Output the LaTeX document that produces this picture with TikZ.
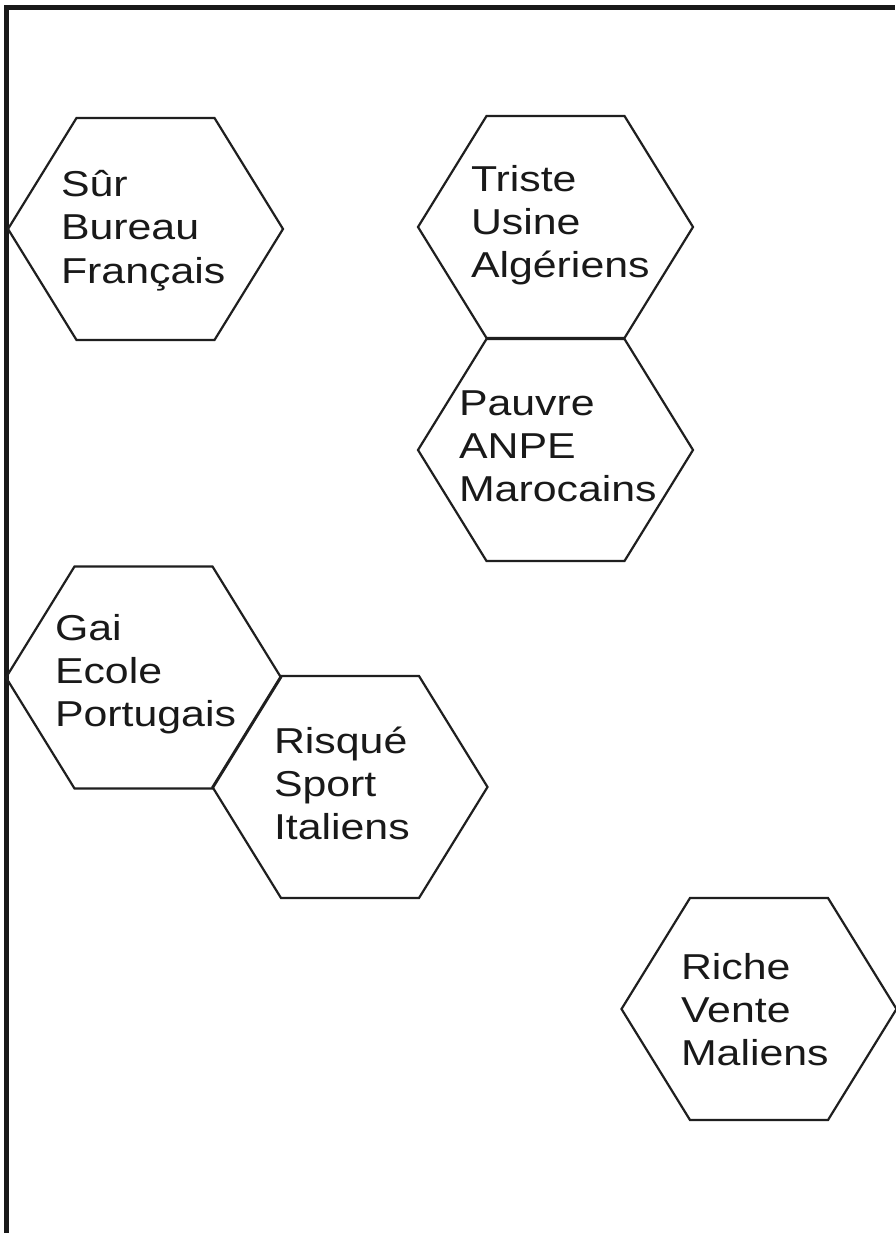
\documentclass[tikz,border=0pt]{standalone}
\usepackage{graphicx}
\usepackage{fontspec}
\setmainfont{Liberation Sans}
\newcommand\lbltext[1]{\scalebox{1.19}[1]{\begin{tabular}[t]{@{}l@{}}#1\end{tabular}}}
\newcommand\hexat[1]{\draw[hexline] (#1) ++(-137.5,0) -- ++(68.5,-111) -- ++(138,0) -- ++(68.5,111) -- ++(-68.5,111) -- ++(-138,0) -- cycle;}
\tikzset{
  hexline/.style={line width=2.2pt, draw=black!88, line join=miter},
  frameline/.style={line width=5pt, draw=black!90},
  lbl/.style={anchor=base west, inner sep=0pt, outer sep=0pt, font=\fontsize{36}{43}\selectfont, text=black!90}
}
\begin{document}
\begin{tikzpicture}[x=1pt,y=-1pt]
\useasboundingbox (0,0) rectangle (895,1233);
\fill[white] (0,0) rectangle (895,1233);
% frame
\coordinate (fb) at (6,1233);
\coordinate (fc) at (6,7.5);
\coordinate (fr) at (895,7.5);
\draw[frameline, line join=miter] (fb) -- (fc) -- (fr);
% hexagon centres
\coordinate (h1) at (145.5,229);
\coordinate (h2) at (555.5,227);
\coordinate (h3) at (555.5,450);
\coordinate (h4) at (143.5,677.5);
\coordinate (h5) at (350,787);
\coordinate (h6) at (759,1009);
\hexat{h1}
\hexat{h2}
\hexat{h3}
\hexat{h4}
\hexat{h5}
\hexat{h6}
% labels
\node[lbl] (t1) at (61,197) {\lbltext{Sûr\\Bureau\\Français}};
\node[lbl] (t2) at (471,192) {\lbltext{Triste\\Usine\\Algériens}};
\node[lbl] (t3) at (459,415) {\lbltext{Pauvre\\ANPE\\Marocains}};
\node[lbl] (t4) at (55,640) {\lbltext{Gai\\Ecole\\Portugais}};
\node[lbl] (t5) at (274,753) {\lbltext{Risqué\\Sport\\Italiens}};
\node[lbl] (t6) at (681,979) {\lbltext{Riche\\Vente\\Maliens}};
\end{tikzpicture}
\end{document}
